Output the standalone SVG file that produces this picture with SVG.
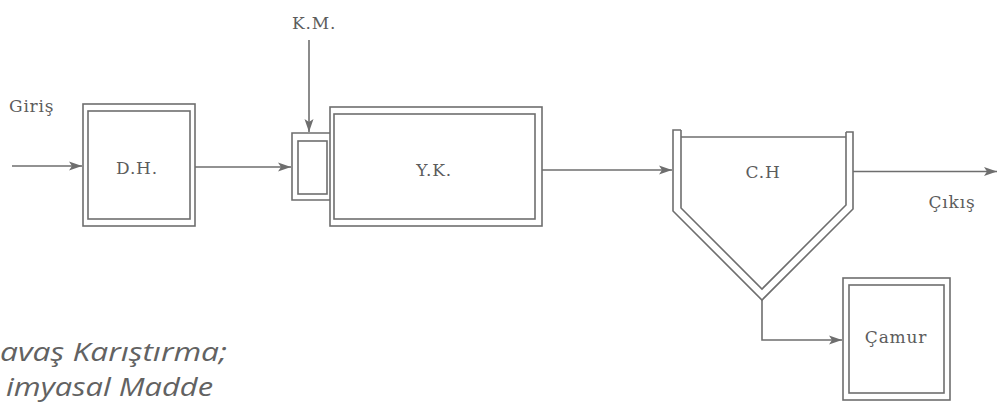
<svg xmlns="http://www.w3.org/2000/svg" width="999" height="403" viewBox="0 0 999 403">
<style>
.ln{fill:none;stroke:#6e6e6e;stroke-width:1.6}
.lbl{font-family:"DejaVu Serif","Liberation Serif",serif;font-size:17px;fill:#5c5c5c;letter-spacing:0.8px}
.note{font-family:"Open Sans","Noto Sans",sans-serif;font-style:italic;font-size:26px;fill:#626262}
</style>
<defs>
<marker id="ah" markerWidth="14" markerHeight="10" refX="13" refY="5" orient="auto" markerUnits="userSpaceOnUse">
<path d="M0,0.5 L13,5 L0,9.5 L3,5 z" fill="#6e6e6e"/>
</marker>
</defs>
<rect width="999" height="403" fill="#ffffff"/>

<g id="connectors">
<line class="ln" x1="12" y1="166" x2="82" y2="166" marker-end="url(#ah)"/>
<line class="ln" x1="195" y1="167" x2="291" y2="167" marker-end="url(#ah)"/>
<line class="ln" x1="309" y1="40" x2="309" y2="132" marker-end="url(#ah)"/>
<line class="ln" x1="542" y1="170" x2="672" y2="170" marker-end="url(#ah)"/>
<line class="ln" x1="853" y1="171.5" x2="997" y2="171.5" marker-end="url(#ah)"/>
<polyline class="ln" points="762,300 762,340 842,340" marker-end="url(#ah)"/>
</g>

<g id="giris"><text class="lbl" x="9" y="112">Giriş</text></g>
<g id="km"><text class="lbl" x="292" y="29">K.M.</text></g>

<g id="dh">
<rect class="ln" x="83" y="104" width="112" height="122"/>
<rect class="ln" x="88" y="111" width="102" height="108"/>
<text class="lbl" x="137" y="174" text-anchor="middle">D.H.</text>
</g>

<g id="mixer">
<polyline class="ln" points="330,133 292,133 292,200 330,200"/>
<rect class="ln" x="298" y="141" width="29" height="53"/>
</g>

<g id="yk">
<rect class="ln" x="330" y="107" width="212" height="119"/>
<rect class="ln" x="334" y="114" width="201" height="105"/>
<text class="lbl" x="434" y="176" text-anchor="middle">Y.K.</text>
</g>

<g id="ch">
<polyline class="ln" points="681,130 673,130 673,211 762,300 853,209 853,132 846,132"/>
<polyline class="ln" points="681,130 681,208 762,289 846,205 846,132"/>
<line class="ln" x1="681" y1="137" x2="846" y2="137"/>
<text class="lbl" x="763" y="178" text-anchor="middle">C.H</text>
</g>

<g id="cikis"><text class="lbl" x="952" y="208" text-anchor="middle">Çıkış</text></g>

<g id="camur">
<rect class="ln" x="843" y="278" width="107" height="122"/>
<rect class="ln" x="849" y="285" width="95" height="108"/>
<text class="lbl" x="896" y="343" text-anchor="middle">Çamur</text>
</g>

<g id="note">
<text class="note" x="0" y="361" textLength="227" lengthAdjust="spacingAndGlyphs">avaş Karıştırma;</text>
<text class="note" x="6" y="396" textLength="207" lengthAdjust="spacingAndGlyphs">imyasal Madde</text>
</g>
</svg>
